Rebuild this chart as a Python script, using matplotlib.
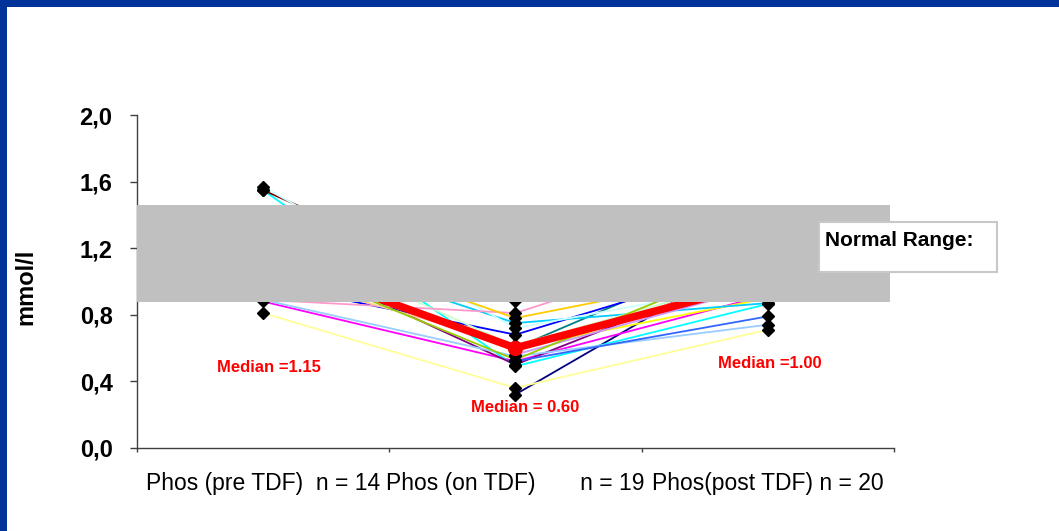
import matplotlib
matplotlib.use("Agg")
import matplotlib.pyplot as plt
import numpy as np
from matplotlib.patches import Rectangle
import matplotlib.transforms as mtransforms

plt.rcParams['font.family'] = ['Liberation Sans', 'DejaVu Sans']

# ---------------- data ----------------
categories = ["Phos (pre TDF)  n = 14", "Phos (on TDF)       n = 19", "Phos(post TDF) n = 20"]
nan = np.nan
patient_colors = ["#000080", "#FF00FF", "#FFFF00", "#00FFFF", "#800080",
                  "#800000", "#008080", "#0000FF", "#00CCFF", "#CCFFFF",
                  "#CCFFCC", "#FFFF99", "#99CCFF", "#FF99CC", "#CC99FF",
                  "#FFCC99", "#3366FF", "#33CCCC", "#99CC00", "#FFCC00"]
phos_pre  = [nan, 0.88, nan, 1.55, 1.20, 1.55, nan, 0.99, 1.25, 1.57,
             1.30, 0.81, 0.89, 0.89, nan, 1.05, nan, nan, 1.15, 1.31]
phos_on   = [0.32, 0.52, 0.60, 0.49, 0.50, 0.88, 0.60, 0.68, 0.75, 0.72,
             0.61, 0.36, 0.55, 0.81, 0.56, 0.62, 0.52, nan, 0.53, 0.78]
phos_post = [1.20, 0.92, 0.90, 0.865, 1.10, 1.30, 1.25, 1.14, 0.87, 1.00,
             1.05, 0.71, 0.74, 1.30, 0.98, 1.02, 0.79, 0.95, 1.15, 1.08]
median_values = [1.15, 0.60, 1.00]
median_labels = ["Median =1.15", "Median = 0.60", "Median =1.00"]
normal_range = [0.875, 1.46]
ytick_values = [0.0, 0.4, 0.8, 1.2, 1.6, 2.0]
ytick_labels = ["0,0", "0,4", "0,8", "1,2", "1,6", "2,0"]

# ---------------- figure ----------------
W, H = 1059, 531
fig = plt.figure(figsize=(W / 100, H / 100), dpi=100)
fig.patch.set_facecolor("white")

ax = fig.add_axes([136.7 / W, 1 - 447.7 / H, (894 - 136.7) / W, (447.7 - 115.3) / H])
ax.set_facecolor("white")

x = np.arange(len(categories))
data = np.array([phos_pre, phos_on, phos_post], dtype=float).T

for color, row in zip(patient_colors, data):
    ax.plot(x, row, color=color, lw=1.3, zorder=2, solid_capstyle="butt")
for row in data:
    ax.plot(x, row, ls="none", marker="D", ms=6.5, mfc="black", mec="black", zorder=3)

ax.plot(x, median_values, color="#FF0000", lw=5.5, marker="o", ms=10,
        mfc="#FF0000", mec="#FF0000", zorder=4, solid_joinstyle="miter")

# normal range band (drawn over data)
trans = mtransforms.blended_transform_factory(ax.transAxes, ax.transData)
ax.add_patch(Rectangle((0, normal_range[0]), (890 - 136.7) / (894 - 136.7),
                       normal_range[1] - normal_range[0], transform=trans,
                       facecolor="#C0C0C0", edgecolor="none", zorder=5))

# axes styling
ax.set_xlim(-0.5, 2.5)
ax.set_ylim(0, 2.0)
for s in ["top", "right"]:
    ax.spines[s].set_visible(False)
for s in ["left", "bottom"]:
    ax.spines[s].set_color("#404040")
    ax.spines[s].set_linewidth(1.0)

ax.set_yticks(ytick_values)
ax.set_yticklabels(ytick_labels, fontsize=17, fontweight="bold")
ax.tick_params(axis="y", direction="out", length=5.4, width=1.0, color="#404040", pad=12)

ax.set_xticks(x)
ax.set_xticklabels(categories, fontsize=16.5)
ax.tick_params(axis="x", which="major", length=0, pad=17.5)
ax.set_xticks([-0.5, 0.5, 1.5, 2.5], minor=True)
ax.tick_params(axis="x", which="minor", direction="out", length=3, width=1.0, color="#404040")

fig.text(26 / W, 1 - 287 / H, "mmol/l", rotation=90, fontsize=17, fontweight="bold",
         ha="center", va="center")

# median annotations
median_pos = [(268.5, 367), (525.5, 408), (770, 363)]
for (px, py), lab in zip(median_pos, median_labels):
    fig.text(px / W, 1 - py / H, lab, color="#FF0000", fontsize=12, fontweight="bold",
             ha="center", va="center", zorder=10)

# Normal Range box
fig.patches.append(Rectangle((819 / W, 1 - 272.3 / H), (996.7 - 819) / W, (272.3 - 221.7) / H,
                             transform=fig.transFigure, facecolor="white",
                             edgecolor="#C8C8C8", lw=1.5, zorder=8))
fig.text(825 / W, 1 - 240 / H, "Normal Range:", fontsize=15, fontweight="bold",
         ha="left", va="center", zorder=10)

# blue slide border (left and top)
fig.patches.append(Rectangle((0, 0), 7 / W, 1, transform=fig.transFigure,
                             facecolor="#003399", edgecolor="none", zorder=20))
fig.patches.append(Rectangle((0, 1 - 7 / H), 1, 7 / H, transform=fig.transFigure,
                             facecolor="#003399", edgecolor="none", zorder=20))

fig.savefig("out.png", dpi=100, facecolor="white")
